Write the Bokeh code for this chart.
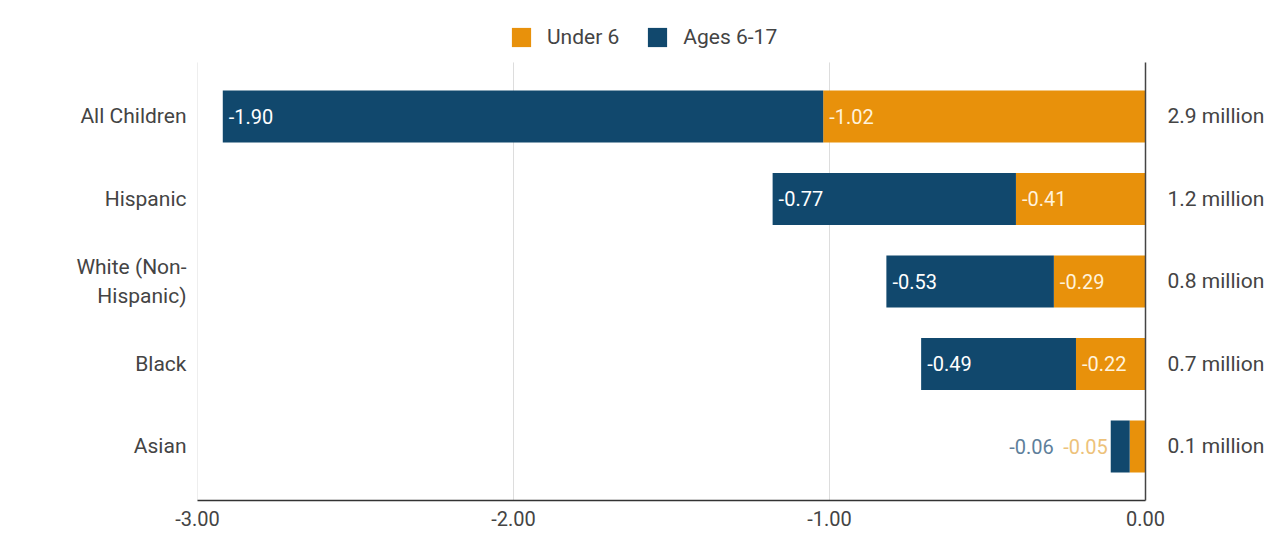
from bokeh.plotting import figure
from bokeh.models import (ColumnDataSource, LinearAxis, Legend, LegendItem,
                          FixedTicker, NumeralTickFormatter, Range1d)
from bokeh.core.properties import value
from bokeh.embed import file_html
from bokeh.resources import INLINE

categories = ["All Children", "Hispanic", "White (Non-Hispanic)", "Black", "Asian"]
under6 = [-1.02, -0.41, -0.29, -0.22, -0.05]
ages6_17 = [-1.90, -0.77, -0.53, -0.49, -0.06]
totals_text = ["2.9 million", "1.2 million", "0.8 million", "0.7 million", "0.1 million"]
left_text = ["All Children", "Hispanic", "White (Non-\nHispanic)", "Black", "Asian"]
x_ticks = [-3, -2, -1, 0]

ORANGE = "#E8910B"
NAVY = "#11486D"
FONT = "Roboto"
FS = "20px"
FS_AX = "21px"
TXT = "#444444"

n = len(categories)
ypos = [n - 1 - i for i in range(n)]  # first category at top
y_lo, y_hi = -0.655, n - 1 + 0.655      # extent of the category bands
y_top = 5.224                           # extra room above for the legend

src = ColumnDataSource(dict(y=ypos, under6=under6, ages=ages6_17))

p = figure(width=1273, height=556, output_backend="svg", toolbar_location=None,
           y_range=Range1d(y_lo, y_top), x_range=Range1d(-3, 0),
           min_border_left=197, min_border_right=128, min_border_top=15, min_border_bottom=56)
p.outline_line_color = None
p.xgrid.grid_line_color = None
p.ygrid.grid_line_color = None

# vertical grid lines limited to the band area
grid_x = x_ticks[:-1]
p.segment(x0=grid_x, x1=grid_x, y0=[y_lo] * len(grid_x), y1=[y_hi] * len(grid_x),
          line_color="#dddddd", line_width=1)

r = p.hbar_stack(["under6", "ages"], y="y", height=0.63, color=[ORANGE, NAVY],
                 line_color=None, source=src)

# data labels
in_x, in_y, in_t, in_c = [], [], [], []
out_x, out_y, out_t, out_c, out_off = [], [], [], [], []
for yy, u, a in zip(ypos, under6, ages6_17):
    total = u + a
    if abs(u) >= 0.15:
        in_x += [u, total]; in_y += [yy, yy]
        in_t += [f"{u:.2f}", f"{a:.2f}"]; in_c += ["#FFF3DC", "#FFFFFF"]
    else:
        out_x += [total, total]; out_y += [yy, yy]
        out_t += [f"{u:.2f}", f"{a:.2f}"]; out_c += ["#EDC27A", "#5E7F9B"]
        out_off += [-3, -57]

p.text(x=in_x, y=in_y, text=in_t, text_color=in_c, x_offset=6,
       text_align="left", text_baseline="middle",
       text_font=value(FONT), text_font_size=FS)
p.text(x=out_x, y=out_y, text=out_t, text_color=out_c, x_offset=out_off,
       text_align="right", text_baseline="middle",
       text_font=value(FONT), text_font_size=FS)

# x axis
p.xaxis.ticker = FixedTicker(ticks=x_ticks)
p.xaxis.formatter = NumeralTickFormatter(format="0.00")
p.xaxis.major_tick_line_color = None
p.xaxis.minor_tick_line_color = None
p.xaxis.major_tick_out = 0
p.xaxis.axis_line_color = "#333333"
p.xaxis.axis_line_width = 1.5
p.xaxis.major_label_text_font = FONT
p.xaxis.major_label_text_font_size = FS
p.xaxis.major_label_text_color = TXT
p.xaxis.major_label_standoff = 10

# left axis
p.yaxis.ticker = FixedTicker(ticks=ypos)
p.yaxis.axis_line_color = None
p.yaxis.major_tick_line_color = None
p.yaxis.minor_tick_line_color = None
p.yaxis.major_tick_out = 0
p.yaxis.major_label_text_font = FONT
p.yaxis.major_label_text_font_size = FS_AX
p.yaxis.major_label_text_color = TXT
p.yaxis.major_label_standoff = 11
p.yaxis.major_label_overrides = {yy: t for yy, t in zip(ypos, left_text)}

# right axis with totals (its line is the zero line)
ra = LinearAxis(ticker=FixedTicker(ticks=ypos), bounds=(y_lo, y_hi),
                axis_line_color="#444444", axis_line_width=1.5,
                major_tick_line_color=None, minor_tick_line_color=None, major_tick_out=0,
                major_label_text_font=FONT, major_label_text_font_size=FS_AX,
                major_label_text_color=TXT, major_label_standoff=22,
                major_label_overrides={yy: t for yy, t in zip(ypos, totals_text)})
p.add_layout(ra, "right")

legend = Legend(items=[LegendItem(label="Under 6", renderers=[r[0]]),
                       LegendItem(label="Ages 6-17", renderers=[r[1]])],
                orientation="horizontal", location=(312, 451),
                label_text_font=FONT, label_text_font_size=FS_AX, label_text_color=TXT,
                glyph_width=24, glyph_height=24, label_standoff=14, spacing=26,
                border_line_color=None, background_fill_alpha=0, margin=0, padding=4)
p.add_layout(legend)

open("out.html", "w").write(file_html(p, INLINE))
